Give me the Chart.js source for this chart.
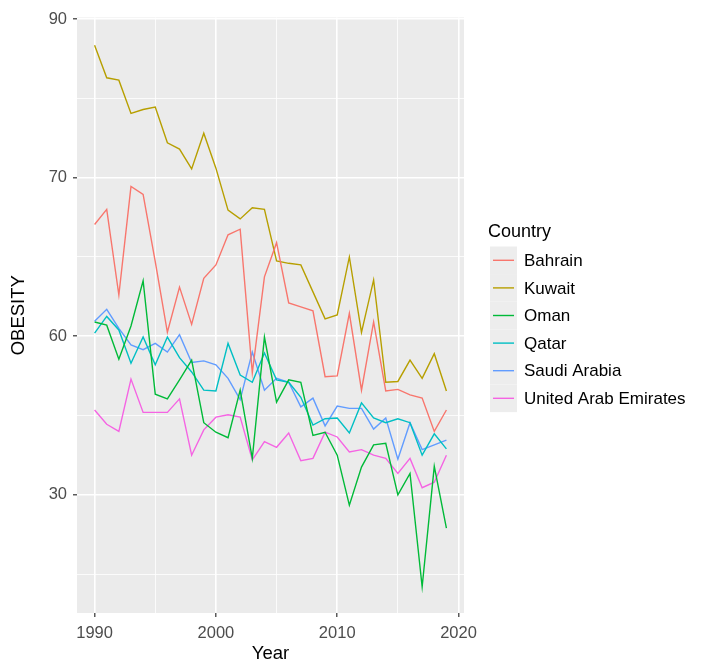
<!DOCTYPE html>
<html lang="en">
<head>
    <meta charset="UTF-8">
    <title>Obesity by Country</title>
    <script src="https://cdn.jsdelivr.net/npm/chart.js"></script>
    <style>
        body { margin: 0; background: #ffffff; }
        canvas { display: block; }
    </style>
</head>
<body>
    <canvas id="obesityChart" width="702" height="663"></canvas>

    <script>
        // Values
        const years = [1990, 1991, 1992, 1993, 1994, 1995, 1996, 1997, 1998, 1999,
                       2000, 2001, 2002, 2003, 2004, 2005, 2006, 2007, 2008, 2009,
                       2010, 2011, 2012, 2013, 2014, 2015, 2016, 2017, 2018, 2019];
        const countries = ['Bahrain', 'Kuwait', 'Oman', 'Qatar', 'Saudi Arabia', 'United Arab Emirates'];
        const bahrain = [64.1, 66.0, 55.2, 68.9, 67.9, 59.4, 50.5, 56.2, 51.5, 57.3, 59.0, 62.8, 63.5, 45.4, 57.5,
                         61.8, 54.2, 53.7, 53.2, 44.9, 45.0, 52.9, 43.2, 51.8, 43.1, 43.3, 42.6, 42.2, 38.0, 40.7];
        const kuwait = [86.7, 82.6, 82.3, 78.1, 78.6, 78.9, 74.4, 73.6, 71.1, 75.6, 71.2, 65.9, 64.8, 66.2, 66.0,
                        59.5, 59.2, 59.0, 55.6, 52.2, 52.7, 60.0, 50.5, 57.1, 44.2, 44.3, 47.0, 44.7, 47.8, 43.1];
        const oman = [51.8, 51.4, 47.1, 51.3, 57.0, 42.7, 42.1, 44.5, 47.0, 39.1, 37.9, 37.2, 43.2, 34.6, 49.9,
                      41.7, 44.5, 44.2, 37.5, 37.9, 35.0, 28.7, 33.5, 36.3, 36.5, 30.0, 32.7, 18.4, 33.6, 25.8];
        const qatar = [50.4, 52.5, 50.8, 46.6, 49.9, 46.4, 49.9, 47.3, 45.5, 43.2, 43.1, 49.1, 45.1, 44.2, 47.9,
                       44.5, 44.2, 42.3, 38.8, 39.6, 39.7, 37.8, 41.6, 39.7, 39.1, 39.6, 39.1, 35.0, 37.7, 35.8];
        const saudiArabia = [51.9, 53.4, 51.0, 48.9, 48.3, 49.1, 48.0, 50.2, 46.7, 46.9, 46.4, 44.7, 42.0, 48.0, 43.2,
                             44.7, 44.2, 41.1, 42.2, 38.7, 41.2, 40.9, 40.9, 38.3, 39.7, 34.5, 39.1, 35.7, 36.3, 36.9];
        const uae = [40.7, 38.9, 38.0, 44.6, 40.4, 40.4, 40.4, 42.1, 35.0, 38.2, 39.8, 40.1, 39.8, 34.4, 36.7,
                     36.0, 37.8, 34.3, 34.6, 37.9, 37.3, 35.4, 35.7, 35.0, 34.6, 32.7, 34.6, 30.9, 31.6, 35.0];
        const seriesValues = [bahrain, kuwait, oman, qatar, saudiArabia, uae];
        const colors = ['#F8766D', '#B79F00', '#00BA38', '#00BFC4', '#619CFF', '#F564E3'];

        // y tick labels as printed on the original axis (evenly spaced)
        const yTickValues = [30, 50, 70, 90];
        const yTickLabels = ['30', '60', '70', '90'];
        const yMinorValues = [20, 40, 60, 80];
        const xTickValues = [1990, 2000, 2010, 2020];
        const xMinorValues = [1995, 2005, 2015];

        Chart.defaults.font.family = "'Liberation Sans', Arial, sans-serif";

        const panelBackground = {
            id: 'panelBackground',
            beforeDraw(chart) {
                const { ctx, chartArea: a } = chart;
                ctx.save();
                ctx.fillStyle = '#ffffff';
                ctx.fillRect(0, 0, chart.width, chart.height);
                ctx.fillStyle = '#EBEBEB';
                ctx.fillRect(a.left, a.top, a.right - a.left, a.bottom - a.top);
                ctx.restore();
            }
        };

        // ggplot-style legend on the right
        const sideLegend = {
            id: 'sideLegend',
            afterDraw(chart) {
                const ctx = chart.ctx;
                const x0 = 490, y0 = 246.5, keyW = 27, keyH = 27.6;
                ctx.save();
                ctx.fillStyle = '#000000';
                ctx.font = "18px 'Liberation Sans', Arial, sans-serif";
                ctx.textBaseline = 'middle';
                ctx.fillText('Country', 488, 232);
                chart.data.datasets.forEach((ds, i) => {
                    const y = y0 + i * keyH;
                    ctx.fillStyle = '#EDEDED';
                    ctx.fillRect(x0, y, keyW, keyH);
                    ctx.strokeStyle = ds.borderColor;
                    ctx.lineWidth = 1.4;
                    ctx.beginPath();
                    ctx.moveTo(x0 + 3, y + keyH / 2);
                    ctx.lineTo(x0 + keyW - 3, y + keyH / 2);
                    ctx.stroke();
                    ctx.fillStyle = '#000000';
                    ctx.font = "17px 'Liberation Sans', Arial, sans-serif";
                    ctx.fillText(ds.label, 524, y + keyH / 2 + 1);
                });
                ctx.restore();
            }
        };

        const ctx = document.getElementById('obesityChart').getContext('2d');
        new Chart(ctx, {
            type: 'line',
            data: {
                datasets: countries.map((name, i) => ({
                    label: name,
                    data: years.map((yr, j) => ({ x: yr, y: seriesValues[i][j] })),
                    borderColor: colors[i],
                    backgroundColor: colors[i],
                    borderWidth: 1.4,
                    pointRadius: 0,
                    tension: 0,
                    fill: false
                }))
            },
            options: {
                responsive: false,
                animation: false,
                devicePixelRatio: 1,
                layout: { padding: { left: 0, top: 17.5, right: 238, bottom: 0 } },
                plugins: {
                    legend: { display: false },
                    tooltip: { enabled: false }
                },
                scales: {
                    x: {
                        type: 'linear',
                        min: 1988.55,
                        max: 2020.45,
                        afterFit: (scale) => { scale.height = 50; },
                        afterBuildTicks: (scale) => {
                            scale.ticks = xTickValues.concat(xMinorValues).sort((a, b) => a - b).map(v => ({ value: v }));
                        },
                        ticks: {
                            autoSkip: false,
                            maxRotation: 0,
                            padding: 7,
                            color: '#4D4D4D',
                            font: { size: 16.5 },
                            callback: (v) => xTickValues.includes(v) ? String(v) : ''
                        },
                        grid: {
                            color: '#ffffff',
                            lineWidth: (c) => xTickValues.includes(c.tick && c.tick.value) ? 1.6 : 0.8,
                            tickColor: (c) => xTickValues.includes(c.tick && c.tick.value) ? '#333333' : 'rgba(0,0,0,0)',
                            tickLength: 4,
                            tickWidth: 1.2
                        },
                        border: { display: false },
                        title: {
                            display: true,
                            text: 'Year',
                            color: '#000000',
                            font: { size: 18.5, lineHeight: 1 },
                            padding: { top: 0, bottom: 0 }
                        }
                    },
                    y: {
                        type: 'linear',
                        min: 15.1,
                        max: 90.2,
                        afterFit: (scale) => { scale.width = 77; },
                        afterBuildTicks: (scale) => {
                            scale.ticks = yTickValues.concat(yMinorValues).sort((a, b) => a - b).map(v => ({ value: v }));
                        },
                        ticks: {
                            autoSkip: false,
                            padding: 6,
                            color: '#4D4D4D',
                            font: { size: 16.5 },
                            callback: (v) => {
                                const k = yTickValues.indexOf(v);
                                return k >= 0 ? yTickLabels[k] : '';
                            }
                        },
                        grid: {
                            color: '#ffffff',
                            lineWidth: (c) => yTickValues.includes(c.tick && c.tick.value) ? 1.6 : 0.8,
                            tickColor: (c) => yTickValues.includes(c.tick && c.tick.value) ? '#333333' : 'rgba(0,0,0,0)',
                            tickLength: 4,
                            tickWidth: 1.2
                        },
                        border: { display: false },
                        title: {
                            display: true,
                            text: 'OBESITY',
                            color: '#000000',
                            font: { size: 18.5, lineHeight: 1.2 },
                            padding: { top: 8, bottom: 0 }
                        }
                    }
                }
            },
            plugins: [panelBackground, sideLegend]
        });
    </script>
</body>
</html>
